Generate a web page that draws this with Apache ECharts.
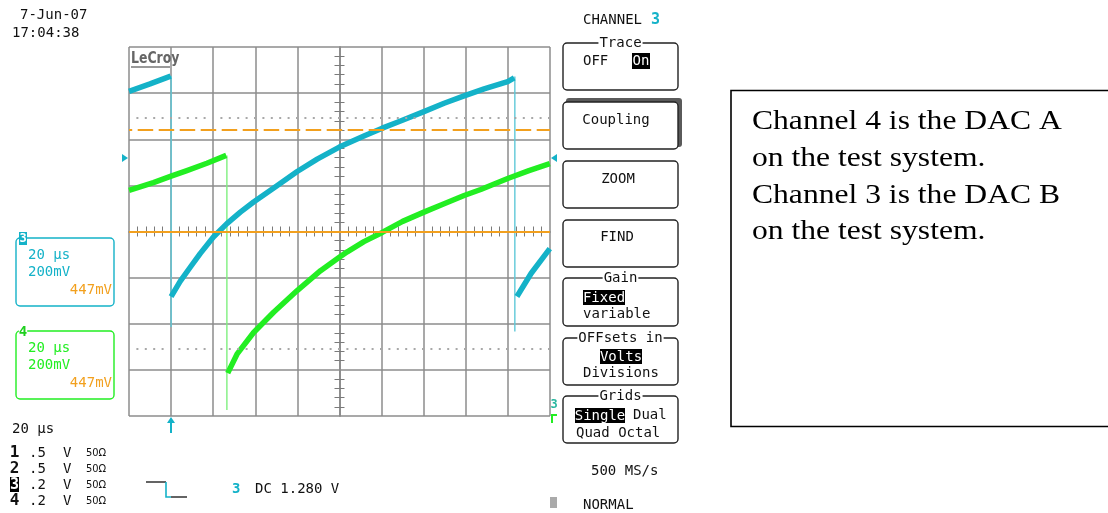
<!DOCTYPE html>
<html><head><meta charset="utf-8">
<script src="https://cdn.jsdelivr.net/npm/echarts@6/dist/echarts.min.js"></script>
<style>html,body{margin:0;padding:0;background:#fff}#c{width:1108px;height:513px}</style>
</head><body><div id="c"></div>
<script>
// ---- axes: time in µs (20 µs/div), vertical in divisions (200 mV/div)
const timeRange = [-100, 100];
const timeStep = 20;
const divRange = [-4, 4];
const divStep = 1;

// ---- Channel 3 (DAC B), cyan: ramps
const ch3Ramp1 = [[-100,3.04],[-90,3.20],[-80.2,3.37]];
const ch3Ramp2 = [[-80,-1.41],[-75.7,-1.08],[-71,-0.78],[-66.2,-0.48],[-59.9,-0.12],[-53.5,0.17],[-47.1,0.42],[-40.8,0.64],[-29.7,0.99],[-20.1,1.30],[-10.6,1.57],[-0.1,1.83],[11.6,2.07],[20.3,2.24],[27.5,2.37],[40.1,2.60],[49.7,2.78],[59.2,2.94],[68.7,3.09],[79.9,3.25],[83.0,3.33]];
const ch3Ramp3 = [[84.3,-1.41],[91,-0.91],[99.9,-0.37]];
// vertical edges: [time, top, bottom]
const ch3Edges = [[-80,3.37,-2.07],[83.3,3.36,-2.17]];

// ---- Channel 4 (DAC A), green
const ch4Ramp1 = [[-100,0.89],[-88.4,1.06],[-80,1.20],[-72.5,1.32],[-63,1.48],[-53.8,1.65]];
const ch4Ramp2 = [[-53.1,-3.07],[-48.7,-2.66],[-40.8,-2.19],[-31.3,-1.75],[-20.1,-1.28],[-9.0,-0.85],[-0.1,-0.56],[3.7,-0.44],[11.6,-0.22],[20.3,-0.02],[30,0.22],[40.1,0.42],[49.7,0.60],[59.2,0.78],[67.1,0.91],[79.9,1.15],[90,1.32],[99.9,1.47]];
const ch4Edges = [[-53.5,1.65,-3.87]];

// ---- reference levels (divisions)
const orangeSolidLevel = [0];
const orangeDashedLevel = [2.21];
const dottedLevels = [2.46, -2.54];

// ---- texts
const dateText = ['7-Jun-07', '17:04:38'];
const panelTexts = ['20 µs', '200mV', '447mV'];
const chanRows = [['1','.5','V','50Ω'],['2','.5','V','50Ω'],['3','.2','V','50Ω'],['4','.2','V','50Ω']];
const noteLines = ['Channel 4 is the DAC A','on the test system.','Channel 3 is the DAC B','on the test system.'];

const CYAN = '#14b2c8', CYAN_L = '#5ec8d8', GREEN = '#22ee22', GREEN_L = '#7ff07f', ORANGE = '#f2a01e', GRID = '#8c8c8c';
const MONO = '"DejaVu Sans Mono", monospace';

const chart = echarts.init(document.getElementById('c'), null, {renderer:'canvas'});

function edgeSeries(edges, color){
  return edges.map(e => ({type:'line', data:[[e[0],e[1]],[e[0],e[2]]], symbol:'none', lineStyle:{color, width:1.4}, z:3, silent:true}));
}
function rampSeries(d, color){
  return {type:'line', data:d, symbol:'none', smooth:false, lineStyle:{color, width:5.5, cap:'butt', join:'round'}, z:4, silent:true};
}

const axisCommonX = {type:'value', min:timeRange[0], max:timeRange[1], interval:timeStep,
  axisLabel:{show:false}, axisTick:{show:false},
  minorTick:{show:true, splitNumber:5, length:5, lineStyle:{color:'#7a7a7a', width:1}},
  axisLine:{onZero:true, onZeroAxisIndex:0, lineStyle:{color:GRID, width:1.5}}};
const axisCommonY = {type:'value', min:divRange[0], max:divRange[1], interval:divStep,
  axisLabel:{show:false}, axisTick:{show:false},
  minorTick:{show:true, splitNumber:5, length:5, lineStyle:{color:'#7a7a7a', width:1}},
  axisLine:{onZero:true, onZeroAxisIndex:0, lineStyle:{color:GRID, width:1.5}}};

const series = [];
series.push({type:'line', data:[], silent:true, z:2,
  markLine:{silent:true, symbol:'none', label:{show:false}, animation:false,
    data:[
      ...dottedLevels.map(v => ({yAxis:v, lineStyle:{color:'#a8a8a8', width:2, type:[2,6.4], dashOffset:1}})),
      ...orangeDashedLevel.map(v => ({yAxis:v, lineStyle:{color:ORANGE, width:2, type:[15.5,5.5], dashOffset:12.3}})),
      ...orangeSolidLevel.map(v => ({yAxis:v, lineStyle:{color:ORANGE, width:2, type:'solid'}}))
    ]}});
series.push(...edgeSeries(ch4Edges, GREEN_L));
series.push(...edgeSeries(ch3Edges, CYAN_L));
series.push(rampSeries(ch4Ramp1, GREEN), rampSeries(ch4Ramp2, GREEN));
series.push(rampSeries(ch3Ramp1, CYAN), rampSeries(ch3Ramp2, CYAN), rampSeries(ch3Ramp3, CYAN));

function T(x, y, text, o){
  o = o || {};
  return {type:'text', x, y, z:o.z||10, style:{text, fill:o.fill||'#111', font:(o.weight||'normal')+' '+(o.size||14)+'px '+(o.family||MONO),
    align:o.align||'left', verticalAlign:o.va||'middle', backgroundColor:o.bg, padding:o.pad}};
}
function box(x, y, w, h, stroke, o){
  o = o||{};
  return {type:'rect', shape:{x, y, width:w, height:h, r:o.r==null?4:o.r}, z:o.z||9,
    style:{fill:o.fill||'none', stroke, lineWidth:o.lw||1.4}};
}
function inv(x, y, w, h, text, o){
  o=o||{};
  return [
    {type:'rect', shape:{x, y, width:w, height:h}, z:11, style:{fill:'#000'}},
    T(x+w/2, y+h/2+0.5, text, {fill:'#fff', align:'center', z:12, size:o.size})
  ];
}
function titled(x, y, w, h, title){
  return [box(x, y, w, h, '#222'), T(x+w/2, y, title, {align:'center', bg:'#fff', pad:[0,1], z:11})];
}

const g = [];
// date/time
g.push(T(20, 15, dateText[0]), T(12, 33, dateText[1]));
// LeCroy logo
g.push({type:'group', x:131, y:59, scaleX:0.78, children:[
  {type:'text', x:0, y:0, z:10, style:{text:'LeCroy', fill:'#666', font:'bold 16px "DejaVu Sans", sans-serif', verticalAlign:'middle'}}
]});
g.push({type:'line', shape:{x1:131, y1:67, x2:170, y2:67}, z:10, style:{stroke:'#777', lineWidth:1.5}});
// channel offset markers
g.push({type:'polygon', shape:{points:[[122,154],[128,158],[122,162]]}, z:10, style:{fill:CYAN}});
g.push({type:'polygon', shape:{points:[[557,154],[551,158],[557,162]]}, z:10, style:{fill:CYAN}});
// trigger arrow
g.push({type:'polygon', shape:{points:[[171,417],[167,423],[175,423]]}, z:10, style:{fill:CYAN}});
g.push({type:'line', shape:{x1:171, y1:421, x2:171, y2:433}, z:10, style:{stroke:CYAN, lineWidth:2}});
// trigger level label at right
g.push(T(554, 405, '3', {fill:'#2ab8a0', weight:'bold', size:12, align:'center'}));
g.push({type:'polyline', shape:{points:[[557,415],[552,415],[552,423]]}, z:10, style:{stroke:GREEN, lineWidth:2, fill:'none'}});

// left panels
g.push(box(16, 238, 98, 68, CYAN));
g.push({type:'rect', shape:{x:19, y:232, width:8, height:13}, z:11, style:{fill:CYAN}});
g.push(T(23, 239, '3', {fill:'#fff', weight:'bold', size:12, align:'center', z:12}));
g.push(T(28, 255, panelTexts[0], {fill:CYAN}), T(28, 272, panelTexts[1], {fill:CYAN}), T(112, 290, panelTexts[2], {fill:ORANGE, align:'right'}));
g.push(box(16, 331, 98, 68, GREEN));
g.push(T(23, 332, '4', {fill:'#1ecf1e', weight:'bold', size:14, align:'center', z:12, bg:'#fff'}));
g.push(T(28, 348, panelTexts[0], {fill:GREEN}), T(28, 365, panelTexts[1], {fill:GREEN}), T(112, 383, panelTexts[2], {fill:ORANGE, align:'right'}));

// bottom left
g.push(T(12, 429, '20 µs'));
chanRows.forEach((r, i) => {
  const y = 453 + i*16;
  if (r[0] === '3') {
    g.push({type:'rect', shape:{x:10, y:y-8, width:9, height:15}, z:10, style:{fill:'#000'}});
    g.push(T(14.5, y, r[0], {fill:'#fff', weight:'bold', size:15, align:'center', z:11}));
  } else {
    g.push(T(14.5, y, r[0], {weight:'bold', size:16, align:'center'}));
  }
  g.push(T(29, y, r[1]), T(63, y, r[2]), T(86, y, r[3], {size:11, family:'"DejaVu Sans Condensed", sans-serif'}));
});
// trigger slope symbol
g.push({type:'polyline', shape:{points:[[146,482],[166,482]]}, z:10, style:{stroke:'#222', lineWidth:1.4, fill:'none'}});
g.push({type:'polyline', shape:{points:[[166,482],[166,497],[171,497]]}, z:10, style:{stroke:CYAN, lineWidth:1.6, fill:'none'}});
g.push({type:'polyline', shape:{points:[[171,497],[187,497]]}, z:10, style:{stroke:'#222', lineWidth:1.4, fill:'none'}});
g.push(T(232, 489, '3', {fill:CYAN, weight:'bold', size:14}), T(255, 489, 'DC 1.280 V'));

// right menu
g.push(T(583, 20, 'CHANNEL'), T(651, 20, '3', {fill:CYAN, weight:'bold', size:15}));
g.push(...titled(563, 43, 115, 47, 'Trace'));
g.push(T(583, 61, 'OFF'), ...inv(632, 53, 18, 16, 'On'));
g.push({type:'rect', shape:{x:566, y:98, width:116, height:49, r:3}, z:8, style:{fill:'#5a5a5a'}});
g.push(box(563, 102, 115, 47, '#222', {fill:'#fff'}));
g.push(T(616, 120, 'Coupling', {align:'center'}));
g.push(box(563, 161, 115, 47, '#222'), T(618, 179, 'ZOOM', {align:'center'}));
g.push(box(563, 220, 115, 47, '#222'), T(617, 237, 'FIND', {align:'center'}));
g.push(...titled(563, 278, 115, 48, 'Gain'));
g.push(...inv(583, 290, 42, 15, 'Fixed'), T(583, 314, 'variable'));
g.push(...titled(563, 338, 115, 47, 'OFFsets in'));
g.push(...inv(600, 349, 42, 15, 'Volts'), T(583, 373, 'Divisions'));
g.push(...titled(563, 396, 115, 47, 'Grids'));
g.push(...inv(575, 408, 50, 15, 'Single'), T(633, 415, 'Dual'), T(576, 433, 'Quad Octal'));
g.push(T(591, 471, '500 MS/s'));
g.push({type:'rect', shape:{x:550, y:497, width:7, height:11}, z:10, style:{fill:'#aaa'}});
g.push(T(583, 505, 'NORMAL'));

// note box
g.push({type:'rect', shape:{x:731, y:90.5, width:420, height:336}, z:9, style:{fill:'#fff', stroke:'#000', lineWidth:1.6}});
g.push({type:'group', x:752, y:104, scaleX:1.17, children:[
  {type:'text', x:0, y:0, z:10, style:{text:noteLines.join('\n'), fill:'#000', font:'27px "Liberation Serif", "Times New Roman", serif', lineHeight:36.6, verticalAlign:'top'}}
]});

chart.setOption({
  animation:false,
  backgroundColor:'#fff',
  grid:{left:129, top:47, width:421, height:369, containLabel:false, show:false},
  xAxis:[
    Object.assign({}, axisCommonX, {position:'bottom', splitLine:{show:true, lineStyle:{color:GRID, width:1.5}}}),
    Object.assign({}, axisCommonX, {position:'top', splitLine:{show:false}})
  ],
  yAxis:[
    Object.assign({}, axisCommonY, {position:'left', splitLine:{show:true, lineStyle:{color:GRID, width:1.5}}}),
    Object.assign({}, axisCommonY, {position:'right', splitLine:{show:false}})
  ],
  series,
  graphic:g
});
</script></body></html>
